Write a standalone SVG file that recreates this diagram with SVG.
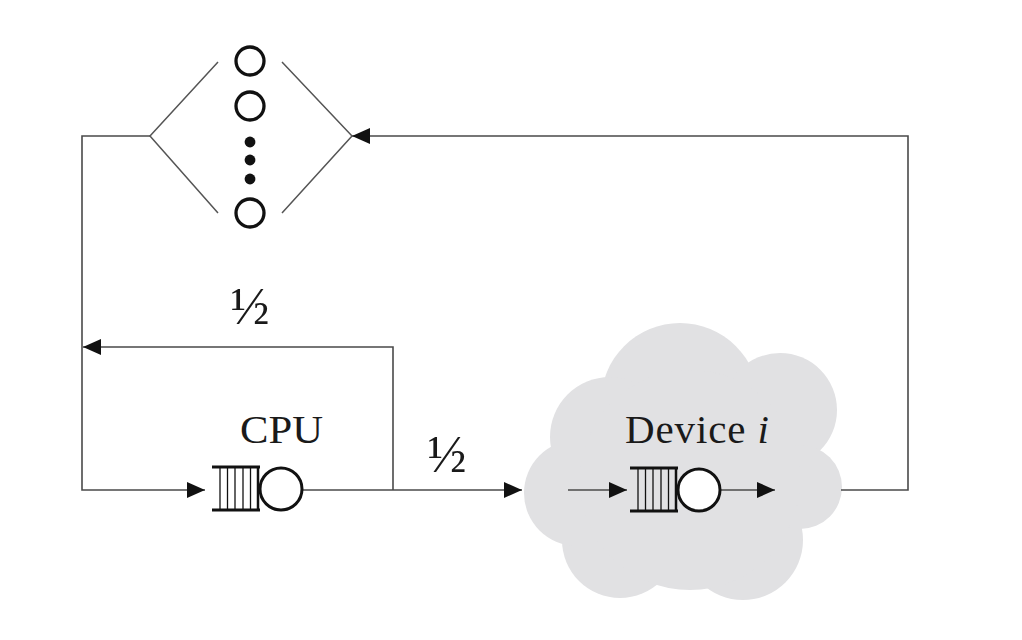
<svg xmlns="http://www.w3.org/2000/svg" xmlns:xlink="http://www.w3.org/1999/xlink" width="1022" height="640" viewBox="0 0 1022 640">
<style>
.wire{fill:none;stroke:#4a4a4a;stroke-width:1.6}
.thin{fill:none;stroke:#555;stroke-width:1.5}
.lbl{font-family:"Liberation Serif","Times New Roman",serif;fill:#1a1a1a}
.srv{fill:#fff;stroke:#111;stroke-width:3.3}
.dot{fill:#111}
</style>
<defs>
<marker id="arr" markerUnits="userSpaceOnUse" markerWidth="20" markerHeight="18" refX="18" refY="8" orient="auto">
<path d="M0,0 L18,8 L0,16 z" fill="#111"/>
</marker>
<g id="queue">
<line x1="0" y1="-22" x2="48" y2="-22" stroke="#111" stroke-width="3"/>
<line x1="0" y1="21" x2="48" y2="21" stroke="#111" stroke-width="3"/>
<g stroke="#111" stroke-width="1.3">
<line x1="8" y1="-22" x2="8" y2="21"/>
<line x1="15.5" y1="-22" x2="15.5" y2="21"/>
<line x1="23" y1="-22" x2="23" y2="21"/>
<line x1="31" y1="-22" x2="31" y2="21"/>
<line x1="38.5" y1="-22" x2="38.5" y2="21"/>
</g>
<line x1="46" y1="-22" x2="46" y2="21" stroke="#111" stroke-width="2.5"/>
<circle cx="69" cy="0" r="21" fill="#fff" stroke="#111" stroke-width="3"/>
</g>
</defs>
<rect width="1022" height="640" fill="#fff"/>

<g id="device-cloud">
<g fill="#e1e1e3">
<circle cx="680" cy="402" r="79"/>
<circle cx="780" cy="410" r="57"/>
<circle cx="800" cy="487" r="42"/>
<circle cx="743" cy="540" r="60"/>
<circle cx="620" cy="540" r="58"/>
<circle cx="577" cy="493" r="53"/>
<circle cx="610" cy="437" r="60"/>
<circle cx="690" cy="480" r="110"/>
</g>
<text class="lbl" x="625" y="443" font-size="41" textLength="144" lengthAdjust="spacing">Device <tspan font-style="italic">i</tspan></text>
</g>

<g id="connectors">
<path class="wire" d="M150,136 H82 V490 H205" marker-end="url(#arr)"/>
<path class="wire" d="M302,490 H522" marker-end="url(#arr)"/>
<path class="wire" d="M393,490 V347 H83" marker-end="url(#arr)"/>
<path class="wire" d="M841,490 H908 V136 H352" marker-end="url(#arr)"/>
<path class="wire" d="M568,490 H627" marker-end="url(#arr)"/>
<path class="wire" d="M720,490 H775" marker-end="url(#arr)"/>
</g>

<g id="terminals">
<path class="thin" d="M218,62 L150,136 L218,213"/>
<path class="thin" d="M282,62 L352,136 L282,213"/>
<circle class="srv" cx="250" cy="61" r="14"/>
<circle class="srv" cx="250" cy="106" r="14"/>
<circle class="dot" cx="250" cy="142" r="5.4"/>
<circle class="dot" cx="250" cy="160" r="5.4"/>
<circle class="dot" cx="250" cy="179" r="5.4"/>
<circle class="srv" cx="250" cy="213" r="14"/>
</g>

<g id="cpu">
<use xlink:href="#queue" x="212" y="489"/>
<text class="lbl" x="240" y="443" font-size="41" textLength="83" lengthAdjust="spacingAndGlyphs">CPU</text>
</g>

<g id="device-queue">
<use xlink:href="#queue" x="630" y="490"/>
</g>

<g id="labels">
<text class="lbl" x="250" y="324" font-size="52" text-anchor="middle">½</text>
<text class="lbl" x="447" y="472" font-size="52" text-anchor="middle">½</text>
</g>
</svg>
